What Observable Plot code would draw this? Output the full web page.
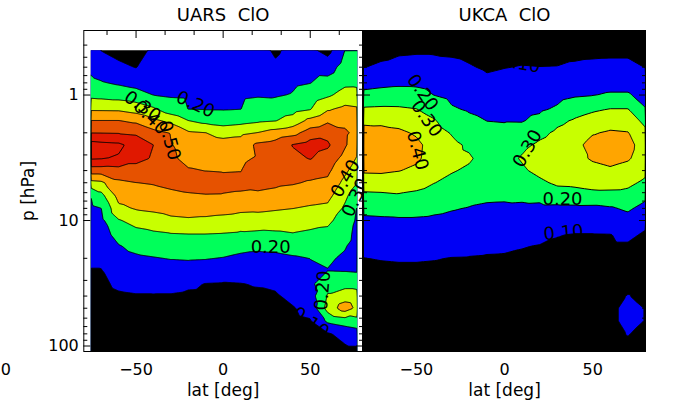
<!DOCTYPE html>
<html><head><meta charset="utf-8">
<script src="https://cdn.jsdelivr.net/npm/d3@7"></script>
<script src="https://cdn.jsdelivr.net/npm/@observablehq/plot@0.6"></script>
<style>
html,body{margin:0;padding:0;background:#fff;}
#wrap{position:relative;width:681px;height:413px;overflow:hidden;}
#wrap svg{position:absolute;top:0;}
</style></head><body><div id="wrap"></div>
<script>
// ---- data ----
const uarsLat = [-76,-70,-60,-50,-40,-30,-20,-10,0,10,20,30,40,50,60,70,77];
const uarsP = [0.44,0.6,0.8,1,1.3,1.6,2,2.5,3.2,4,5,6.3,8,10,13,16,20,25,32,40,50,63,80,110];
const uarsClO = [
[.15,.098,.07,.06,.12,.15,.15,.15,.15,.15,.15,.08,.14,.12,.07,.202,.22],
[.18,.154,.12,.097,.15,.165,.164,.163,.163,.164,.166,.122,.163,.16,.154,.242,.253],
[.22,.207,.188,.168,.177,.18,.177,.176,.175,.177,.182,.161,.185,.198,.235,.281,.283],
[.275,.268,.256,.239,.199,.191,.188,.186,.185,.188,.194,.191,.206,.243,.285,.335,.327],
[.388,.387,.385,.358,.316,.244,.199,.197,.196,.199,.234,.247,.266,.296,.39,.426,.415],
[.502,.502,.502,.479,.421,.373,.301,.268,.251,.265,.283,.296,.339,.428,.484,.478,.45],
[.598,.597,.594,.585,.53,.494,.414,.401,.366,.379,.403,.441,.466,.548,.569,.513,.475],
[.74,.73,.72,.66,.6,.505,.46,.455,.44,.445,.52,.54,.605,.64,.615,.51,.443],
[.71,.705,.69,.63,.59,.51,.484,.48,.478,.482,.51,.56,.576,.605,.556,.468,.39],
[.55,.55,.56,.56,.54,.52,.505,.499,.496,.498,.54,.538,.542,.536,.52,.42,.346],
[.37,.38,.481,.499,.507,.52,.525,.53,.52,.518,.525,.516,.508,.491,.48,.371,.302],
[.201,.272,.436,.454,.465,.482,.493,.497,.496,.491,.486,.476,.457,.441,.432,.321,.24],
[.182,.199,.378,.408,.419,.434,.441,.44,.434,.426,.421,.411,.401,.388,.377,.284,.195],
[.165,.179,.292,.333,.356,.38,.387,.381,.371,.35,.356,.348,.35,.335,.319,.258,.185],
[.146,.155,.235,.266,.28,.291,.295,.295,.291,.284,.277,.282,.292,.28,.274,.229,.175],
[.13,.137,.194,.224,.239,.25,.253,.252,.246,.23,.218,.223,.235,.241,.242,.205,.17],
[.113,.117,.169,.186,.195,.204,.208,.205,.196,.179,.176,.179,.19,.201,.209,.19,.18],
[.097,.097,.143,.155,.161,.165,.162,.153,.139,.136,.143,.147,.168,.19,.198,.195,.19],
[.09,.085,.114,.121,.124,.121,.11,.098,.095,.098,.104,.112,.142,.18,.262,.265,.265],
[.08,.075,.09,.095,.095,.095,.09,.088,.088,.088,.09,.092,.118,.155,.31,.355,.34],
[.07,.07,.08,.085,.085,.085,.08,.08,.08,.08,.08,.085,.095,.124,.34,.45,.375],
[.06,.065,.07,.075,.075,.075,.075,.075,.075,.075,.075,.075,.085,.095,.22,.25,.27],
[.06,.06,.065,.07,.07,.07,.07,.07,.07,.07,.07,.07,.075,.085,.09,.13,.15],
[.06,.06,.06,.06,.06,.06,.06,.06,.06,.06,.06,.06,.065,.07,.07,.08,.08]
];

const ukcaLat = [-80,-70,-60,-50,-40,-30,-20,-10,0,10,20,30,40,50,60,70,80];
const ukcaP = [0.31,0.44,0.6,0.8,1,1.3,1.6,2,2.5,3.2,4,5,6.3,8,10,13,16,20,25,32,40,50,63,80,110];
const ukcaClO = [
[.05,.05,.05,.05,.05,.05,.05,.05,.05,.05,.05,.05,.05,.05,.05,.05,.05],
[.076,.079,.085,.089,.089,.086,.079,.072,.076,.078,.076,.077,.08,.082,.083,.083,.076],
[.098,.111,.13,.135,.129,.12,.106,.091,.098,.103,.101,.102,.111,.117,.12,.12,.098],
[.165,.176,.184,.183,.168,.152,.137,.116,.126,.13,.132,.141,.155,.162,.168,.168,.136],
[.226,.236,.239,.233,.199,.177,.162,.143,.149,.151,.157,.171,.19,.197,.21,.21,.166],
[.312,.316,.314,.303,.263,.21,.191,.175,.176,.176,.187,.214,.26,.286,.304,.304,.205],
[.387,.383,.37,.345,.308,.25,.22,.199,.196,.195,.222,.278,.311,.339,.36,.355,.271],
[.422,.424,.416,.39,.337,.294,.253,.223,.219,.234,.275,.318,.343,.393,.411,.404,.323],
[.448,.455,.446,.419,.366,.32,.287,.245,.241,.279,.317,.345,.375,.43,.441,.424,.362],
[.441,.448,.443,.415,.361,.323,.309,.27,.266,.309,.354,.375,.373,.41,.426,.409,.357],
[.412,.414,.403,.383,.332,.306,.288,.251,.253,.286,.326,.351,.347,.371,.387,.369,.323],
[.352,.355,.349,.333,.302,.28,.258,.233,.233,.252,.281,.317,.321,.332,.337,.322,.281],
[.279,.283,.292,.281,.261,.243,.227,.213,.212,.217,.224,.252,.262,.275,.273,.271,.224],
[.223,.227,.233,.229,.218,.206,.196,.19,.188,.185,.182,.18,.179,.177,.19,.214,.169],
[.184,.187,.189,.189,.185,.178,.17,.165,.163,.159,.153,.144,.136,.135,.145,.167,.12],
[.152,.155,.157,.157,.154,.149,.14,.135,.133,.128,.12,.102,.097,.097,.098,.115,.09],
[.126,.13,.132,.132,.129,.125,.116,.111,.109,.103,.097,.094,.092,.092,.092,.092,.085],
[.099,.103,.105,.105,.103,.098,.097,.095,.094,.09,.087,.085,.085,.085,.085,.085,.08],
[.086,.088,.09,.09,.088,.085,.085,.083,.083,.08,.078,.077,.077,.077,.077,.078,.075],
[.07,.072,.072,.072,.072,.07,.07,.07,.07,.068,.068,.067,.067,.067,.07,.07,.07],
[.055,.06,.06,.06,.06,.06,.06,.06,.06,.06,.06,.06,.06,.06,.07,.105,.07],
[.05,.05,.05,.05,.05,.05,.05,.05,.05,.05,.05,.05,.05,.05,.075,.13,.097],
[.05,.05,.05,.05,.05,.05,.05,.05,.05,.05,.05,.05,.05,.05,.075,.13,.097],
[.05,.05,.05,.05,.05,.05,.05,.05,.05,.05,.05,.05,.05,.05,.065,.105,.07],
[.05,.05,.05,.05,.05,.05,.05,.05,.05,.05,.05,.05,.05,.05,.05,.07,.05]
];

const levels = [0, 0.1, 0.2, 0.3, 0.4, 0.5, 0.6, 0.7];
const levelColors = ["#000000","#0000f5","#00ff5a","#c8ff00","#ffa500","#e65200","#e01800"];

const xMajor = [-50, 0, 50];
const xMinor = [-200/3, -100/3, -50/3, 50/3, 100/3, 200/3];
const yMajor = [1, 10, 100];
const yMinor = [0.4,0.5,0.6,0.7,0.8,0.9,2,3,4,5,6,7,8,9,20,30,40,50,60,70,80,90];

const uarsLabels = [
  {lat:-15.9, p:1.19, t:"0.20", a:25},
  {lat:-46.3, p:1.235, t:"0.30", a:35},
  {lat:-41.7, p:1.51, t:"0.40", a:45},
  {lat:-30.8, p:2.30, t:"0.50", a:75},
  {lat:70.2, p:4.63, t:"0.40", a:-60},
  {lat:76, p:6.56, t:"0.30", a:-65},
  {lat:27.3, p:16.4, t:"0.20", a:0},
  {lat:57.2, p:36.1, t:"0.20", a:-85},
  {lat:50.3, p:65, t:"0.10", a:35}
];
const ukcaLabels = [
  {lat:9.1, p:0.561, t:"0.10", a:10},
  {lat:-46.5, p:0.955, t:"0.20", a:55},
  {lat:-44.3, p:1.54, t:"0.30", a:55},
  {lat:-49.4, p:2.77, t:"0.40", a:75},
  {lat:13.0, p:2.67, t:"0.30", a:-60},
  {lat:32.9, p:6.80, t:"0.20", a:0},
  {lat:33.5, p:12.5, t:"0.10", a:-5}
];

// ---- drawing ----
function toPoints(lats, ps, rows) {
  const out = [];
  ps.forEach((p, i) => lats.forEach((lat, j) => out.push({lat, p, v: rows[i][j]})));
  return out;
}
const fmtLat = d => d < 0 ? "\u2212" + Math.abs(d) : String(d);
const blank = () => "";

function panel({lats, ps, rows, title, showY, left, width, marginLeft, marginRight, labels, fillFrame, id, extra = []}) {
  const pts = toPoints(lats, ps, rows);
  const la = d3.extent(lats), pa = d3.extent(ps);
  const bounds = {x1: la[0] - 4, x2: la[1] + 4, y1: pa[0] / 1.2, y2: pa[1] * 1.2};
  const common = {x: "lat", y: "p", interpolate: "barycentric", pixelSize: 1, ...bounds};
  const svg = Plot.plot({
    width, height: 413, marginLeft, marginRight, marginTop: 30, marginBottom: 62,
    style: {background: "transparent", fontFamily: "DejaVu Sans", fontSize: "16px", overflow: "visible"},
    x: {domain: [-80, 80]},
    y: {type: "log", domain: [0.306, 110.6], reverse: true},
    color: {type: "threshold", domain: levels.slice(1, 7), range: levelColors},
    marks: [
      Plot.contour(pts, {...common, fill: "v", thresholds: levels, stroke: "none"}),
      Plot.contour(pts, {...common, value: "v", thresholds: levels.slice(1), stroke: "black", strokeWidth: 1, fill: "none"}),
      Plot.frame({stroke: "black"}),
      Plot.axisX(xMajor, {anchor: "bottom", tickSize: -7, tickPadding: 19.5, tickFormat: fmtLat, fontSize: 16, label: null}),
      Plot.axisX(xMinor, {anchor: "bottom", tickSize: -4, tickFormat: blank, label: null}),
      Plot.axisX(xMajor, {anchor: "top", tickSize: -7, tickFormat: blank, label: null}),
      Plot.axisX(xMinor, {anchor: "top", tickSize: -4, tickFormat: blank, label: null}),
      Plot.axisY(yMajor, {anchor: "left", tickSize: -7, tickPadding: 12, tickFormat: showY ? String : blank, fontSize: 16, label: null}),
      Plot.axisY(yMinor, {anchor: "left", tickSize: -4, tickFormat: blank, label: null}),
      Plot.axisY(yMajor, {anchor: "right", tickSize: -7, tickFormat: blank, label: null}),
      Plot.axisY(yMinor, {anchor: "right", tickSize: -4, tickFormat: blank, label: null}),
      Plot.text(labels, {x: "lat", y: "p", text: "t", rotate: "a", fontSize: 18, fill: "black", textAnchor: "middle", lineAnchor: "middle", ariaLabel: "clabel"}),
      Plot.text([title], {frameAnchor: "top", dy: -15, fontSize: 18, lineAnchor: "middle", textAnchor: "middle"}),
      Plot.text(["lat [deg]"], {frameAnchor: "bottom", dy: 39, fontSize: 17, lineAnchor: "middle", textAnchor: "middle"}),
      ...(showY ? [Plot.text(["p [hPa]"], {frameAnchor: "left", dx: -55, rotate: -90, fontSize: 17, textAnchor: "middle", lineAnchor: "middle"})] : []),
      ...extra
    ]
  });
  svg.style.left = left + "px";
  // clip the contour fills and lines to the area covered by the data
  const sx = svg.scale("x"), sy = svg.scale("y");
  let rx0, rx1, ry0, ry1;
  if (fillFrame) {
    rx0 = sx.apply(-80); rx1 = sx.apply(80); ry0 = sy.apply(0.306); ry1 = sy.apply(110.6);
  } else {
    rx0 = sx.apply(la[0]); rx1 = sx.apply(la[1]); ry0 = sy.apply(pa[0]); ry1 = sy.apply(110.6);
  }
  const ns = "http://www.w3.org/2000/svg";
  const defs = document.createElementNS(ns, "defs");
  const cp = document.createElementNS(ns, "clipPath");
  cp.setAttribute("id", id);
  const r = document.createElementNS(ns, "rect");
  r.setAttribute("x", Math.min(rx0, rx1)); r.setAttribute("y", Math.min(ry0, ry1));
  r.setAttribute("width", Math.abs(rx1 - rx0)); r.setAttribute("height", Math.abs(ry1 - ry0));
  cp.appendChild(r); defs.appendChild(cp);
  svg.insertBefore(defs, svg.firstChild);
  svg.querySelectorAll('g[aria-label="contour"]').forEach(g => g.setAttribute("clip-path", `url(#${id})`));
  svg.querySelectorAll('g[aria-label="clabel"]').forEach(g => g.style.letterSpacing = "1.5px");
  return svg;
}

const wrap = document.getElementById("wrap");
wrap.appendChild(panel({
  lats: uarsLat, ps: uarsP, rows: uarsClO, title: "UARS\u00a0\u00a0ClO", showY: true,
  left: 0, width: 365, marginLeft: 83.3, marginRight: 3, labels: uarsLabels, fillFrame: false, id: "clipU",
  extra: [Plot.text(["0"], {frameAnchor: "bottom-left", dx: -83, dy: 18, textAnchor: "start", lineAnchor: "middle", fontSize: 16})]
}));
wrap.appendChild(panel({
  lats: ukcaLat, ps: ukcaP, rows: ukcaClO, title: "UKCA\u00a0\u00a0ClO", showY: false,
  left: 340, width: 341, marginLeft: 23, marginRight: 36, labels: ukcaLabels, fillFrame: true, id: "clipK"
}));
</script></body></html>
